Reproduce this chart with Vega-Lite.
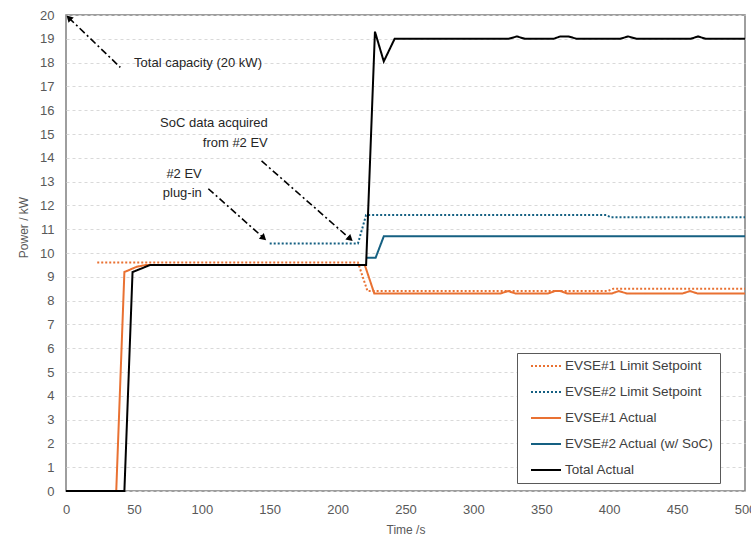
{
  "$schema": "https://vega.github.io/schema/vega-lite/v6.json",
  "width": 679,
  "height": 476,
  "autosize": "none",
  "padding": {"left": 66, "top": 15, "right": 6, "bottom": 51},
  "background": "white",
  "config": {
    "view": {"stroke": "#7f7f7f", "strokeWidth": 1.5},
    "font": "Liberation Sans",
    "legend": {
      "orient": "none", "legendX": 451, "legendY": 338,
      "symbolType": "stroke", "symbolSize": 900, "symbolStrokeWidth": 2,
      "symbolOffset": 7,
      "labelFontSize": 13.5, "labelColor": "#404040", "labelOffset": 3,
      "padding": 6, "rowPadding": 12, "clipHeight": 14,
      "strokeColor": "#595959", "fillColor": "white", "cornerRadius": 0
    }
  },
  "datasets": {
    "series": [
      {"series": "EVSE#1 Limit Setpoint", "time": 23, "power": 9.6},
      {"series": "EVSE#1 Limit Setpoint", "time": 215, "power": 9.6},
      {"series": "EVSE#1 Limit Setpoint", "time": 222, "power": 8.4},
      {"series": "EVSE#1 Limit Setpoint", "time": 399, "power": 8.4},
      {"series": "EVSE#1 Limit Setpoint", "time": 403, "power": 8.5},
      {"series": "EVSE#1 Limit Setpoint", "time": 500, "power": 8.5},
      {"series": "EVSE#2 Limit Setpoint", "time": 150, "power": 10.4},
      {"series": "EVSE#2 Limit Setpoint", "time": 215, "power": 10.4},
      {"series": "EVSE#2 Limit Setpoint", "time": 221, "power": 11.6},
      {"series": "EVSE#2 Limit Setpoint", "time": 398, "power": 11.6},
      {"series": "EVSE#2 Limit Setpoint", "time": 401, "power": 11.5},
      {"series": "EVSE#2 Limit Setpoint", "time": 500, "power": 11.5},
      {"series": "EVSE#1 Actual", "time": 0, "power": 0},
      {"series": "EVSE#1 Actual", "time": 37, "power": 0},
      {"series": "EVSE#1 Actual", "time": 43, "power": 9.2},
      {"series": "EVSE#1 Actual", "time": 52, "power": 9.42},
      {"series": "EVSE#1 Actual", "time": 59, "power": 9.5},
      {"series": "EVSE#1 Actual", "time": 220, "power": 9.5},
      {"series": "EVSE#1 Actual", "time": 227, "power": 8.3},
      {"series": "EVSE#1 Actual", "time": 320, "power": 8.3},
      {"series": "EVSE#1 Actual", "time": 325.5, "power": 8.4},
      {"series": "EVSE#1 Actual", "time": 331, "power": 8.3},
      {"series": "EVSE#1 Actual", "time": 355, "power": 8.3},
      {"series": "EVSE#1 Actual", "time": 360, "power": 8.4},
      {"series": "EVSE#1 Actual", "time": 364, "power": 8.4},
      {"series": "EVSE#1 Actual", "time": 369, "power": 8.3},
      {"series": "EVSE#1 Actual", "time": 402, "power": 8.3},
      {"series": "EVSE#1 Actual", "time": 407, "power": 8.4},
      {"series": "EVSE#1 Actual", "time": 413, "power": 8.3},
      {"series": "EVSE#1 Actual", "time": 454, "power": 8.3},
      {"series": "EVSE#1 Actual", "time": 459.5, "power": 8.4},
      {"series": "EVSE#1 Actual", "time": 465, "power": 8.3},
      {"series": "EVSE#1 Actual", "time": 500, "power": 8.3},
      {"series": "EVSE#2 Actual (w/ SoC)", "time": 221, "power": 9.8},
      {"series": "EVSE#2 Actual (w/ SoC)", "time": 228, "power": 9.8},
      {"series": "EVSE#2 Actual (w/ SoC)", "time": 234, "power": 10.7},
      {"series": "EVSE#2 Actual (w/ SoC)", "time": 500, "power": 10.7},
      {"series": "Total Actual", "time": 0, "power": 0},
      {"series": "Total Actual", "time": 43, "power": 0},
      {"series": "Total Actual", "time": 49, "power": 9.2},
      {"series": "Total Actual", "time": 55.7, "power": 9.35},
      {"series": "Total Actual", "time": 62, "power": 9.5},
      {"series": "Total Actual", "time": 221, "power": 9.5},
      {"series": "Total Actual", "time": 227.5, "power": 19.3},
      {"series": "Total Actual", "time": 234, "power": 18.05},
      {"series": "Total Actual", "time": 242, "power": 19},
      {"series": "Total Actual", "time": 326, "power": 19},
      {"series": "Total Actual", "time": 332, "power": 19.1},
      {"series": "Total Actual", "time": 338, "power": 19},
      {"series": "Total Actual", "time": 359, "power": 19},
      {"series": "Total Actual", "time": 364, "power": 19.1},
      {"series": "Total Actual", "time": 370, "power": 19.1},
      {"series": "Total Actual", "time": 376, "power": 19},
      {"series": "Total Actual", "time": 408, "power": 19},
      {"series": "Total Actual", "time": 414, "power": 19.1},
      {"series": "Total Actual", "time": 420, "power": 19},
      {"series": "Total Actual", "time": 460, "power": 19},
      {"series": "Total Actual", "time": 465.5, "power": 19.1},
      {"series": "Total Actual", "time": 471, "power": 19},
      {"series": "Total Actual", "time": 500, "power": 19}
    ],
    "notes": [
      {"time": 144.3, "power": 17.98, "label": "Total capacity (20 kW)"},
      {"time": 148.6, "power": 15.46, "label": "SoC data acquired"},
      {"time": 148.6, "power": 14.62, "label": "from #2 EV"},
      {"time": 100, "power": 13.32, "label": "#2 EV"},
      {"time": 100, "power": 12.52, "label": "plug-in"}
    ],
    "arrows": [
      {"arrow": "capacity", "time": 40, "power": 17.8},
      {"arrow": "capacity", "time": 2.1, "power": 19.88},
      {"arrow": "soc", "time": 144, "power": 13.87},
      {"arrow": "soc", "time": 209.3, "power": 10.59},
      {"arrow": "plugin", "time": 104.8, "power": 12.7},
      {"arrow": "plugin", "time": 145.6, "power": 10.63}
    ],
    "heads": [
      {"arrow": "capacity", "time": 2.1, "power": 19.88},
      {"arrow": "soc", "time": 209.3, "power": 10.59},
      {"arrow": "plugin", "time": 145.6, "power": 10.63}
    ]
  },
  "encoding": {
    "x": {
      "field": "time", "type": "quantitative",
      "scale": {"domain": [0, 500], "nice": false},
      "axis": {
        "values": [0, 50, 100, 150, 200, 250, 300, 350, 400, 450, 500],
        "tickCount": 20, "format": "d",
        "grid": false, "domain": false, "ticks": false, "tickSize": 0,
        "labelPadding": 12, "labelFontSize": 13, "labelColor": "#595959",
        "labelFlush": false, "labelOverlap": false,
        "title": "Time /s", "titleFontSize": 12, "titleFontWeight": "normal",
        "titleColor": "#595959", "titlePadding": 8
      }
    },
    "y": {
      "field": "power", "type": "quantitative",
      "scale": {"domain": [0, 20], "nice": false},
      "axis": {
        "values": [0, 1, 2, 3, 4, 5, 6, 7, 8, 9, 10, 11, 12, 13, 14, 15, 16, 17, 18, 19, 20],
        "tickCount": 30, "format": "d",
        "grid": true, "gridDash": [3, 3], "gridColor": "#d9d9d9", "gridWidth": 1,
        "domain": false, "ticks": false, "tickSize": 0,
        "labelPadding": 12, "labelFontSize": 13, "labelColor": "#595959",
        "labelFlush": false, "labelOverlap": false,
        "title": "Power / kW", "titleFontSize": 12, "titleFontWeight": "normal",
        "titleColor": "#595959", "titleAngle": -90,
        "titleX": -43, "titleY": 212, "titleAlign": "center", "titleBaseline": "middle"
      }
    }
  },
  "layer": [
    {
      "data": {"name": "series"},
      "mark": {"type": "line", "strokeWidth": 2},
      "encoding": {
        "color": {
          "field": "series", "type": "nominal", "title": null,
          "scale": {
            "domain": ["EVSE#1 Limit Setpoint", "EVSE#2 Limit Setpoint", "EVSE#1 Actual", "EVSE#2 Actual (w/ SoC)", "Total Actual"],
            "range": ["#E97132", "#156082", "#E97132", "#156082", "#000000"]
          }
        },
        "strokeDash": {
          "field": "series", "type": "nominal", "title": null,
          "scale": {
            "domain": ["EVSE#1 Limit Setpoint", "EVSE#2 Limit Setpoint", "EVSE#1 Actual", "EVSE#2 Actual (w/ SoC)", "Total Actual"],
            "range": [[2, 2], [2, 2], [1, 0], [1, 0], [1, 0]]
          }
        }
      }
    },
    {
      "data": {"name": "arrows"},
      "mark": {"type": "line", "color": "#000000", "strokeWidth": 1.6, "strokeDash": [7, 3, 2, 3]},
      "encoding": {
        "detail": {"field": "arrow", "type": "nominal"}
      }
    },
    {
      "data": {"name": "heads"},
      "transform": [{"filter": "datum.arrow === 'capacity'"}],
      "mark": {"type": "point", "shape": "triangle-up", "filled": true, "color": "#000000", "size": 55, "opacity": 1, "angle": 314.5}
    },
    {
      "data": {"name": "heads"},
      "transform": [{"filter": "datum.arrow !== 'capacity'"}],
      "mark": {"type": "point", "shape": "triangle-up", "filled": true, "color": "#000000", "size": 55, "opacity": 1, "angle": 131.5}
    },
    {
      "data": {"name": "notes"},
      "mark": {"type": "text", "align": "right", "baseline": "middle", "fontSize": 13, "color": "#262626"},
      "encoding": {
        "text": {"field": "label", "type": "nominal"}
      }
    }
  ]
}
